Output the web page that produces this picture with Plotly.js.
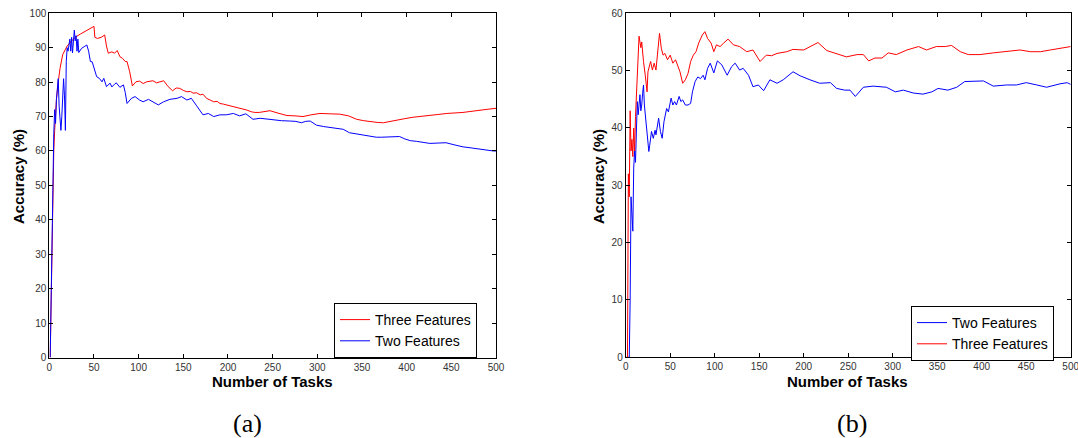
<!DOCTYPE html>
<html>
<head>
<meta charset="utf-8">
<script src="https://cdn.plot.ly/plotly-3.0.1.min.js"></script>
<style>html,body{margin:0;padding:0;background:#fff;}#chart{width:1078px;height:438px;}</style>
</head>
<body>
<div id="chart"></div>
<script>
// ---- Panel (a) ----
const threeA_x = [1,2,3,4,5,6,7,8,10,12,15,20,25,30,35,40,45,50,51,54,58,62,64,66,70,73,76,79,82,85,87,90,93,97,101,105,109,113,116,120,124,128,133,138,142,146,150,154,158,161,165,169,172,176,180,184,188,191,195,198,204,210,216,221,226,230,235,240,247,256,266,275,284,293,303,314,325,335,344,352,359,367,374,381,389,398,407,416,426,435,445,454,463,472,482,490,500];
const threeA_y = [0,16,40,50,60,66,71,75,80,84,88,90.5,92,93.2,94,94.8,95.5,96.2,93,92.7,93,93.7,90.5,88.4,88.8,88.4,89.2,87.4,86.9,86,86,83,78.9,80.1,80.3,79.6,80.1,80.3,80.4,79.8,80.1,80.4,78.7,77.5,78.3,78.2,77.6,77.2,77.3,76.8,76.9,76.3,76.5,75.3,74.8,74.3,74.4,73.8,73.6,73.4,73.1,72.6,72.2,71.9,71.4,71.2,71.2,71.5,71.7,71,70.3,70.2,70.0,70.5,70.9,70.8,70.7,70.2,69.2,68.8,68.5,68.3,68.2,68.6,69.0,69.4,69.8,70.0,70.3,70.6,70.9,71.0,71.2,71.5,71.9,72.1,72.4];
const twoA_x = [1,2,3,4,5,6,7,8,9,10,11,12,13,14,15,16,17,18,19,20,21,22,23,24,25,26,27,28,29,30,31,32,33,34,36,39,42,44,46,48,51,53,56,59,61,64,68,70,73,75,79,83,85,87,92,96,101,105,111,116,122,128,135,143,148,154,159,165,169,172,178,184,191,198,206,213,220,228,236,244,251,260,269,276,282,287,292,299,307,314,322,329,336,344,351,358,366,372,377,385,392,398,404,411,418,426,435,444,453,463,472,482,490,497,500];
const twoA_y = [0,20,40,55,65,72,68,75,78,81,73,70,66,70,75,81,76,66,86,90,89,91,92.5,89,93,88.5,92,95.1,92,93.5,89,92.5,88.6,89,89.8,90.3,90.8,89,86,85.9,83,81.6,81.1,80.1,81.1,78.7,79.7,78.6,79.4,79.8,78.5,79.2,77,73.8,75.3,75.8,74.8,74.3,75,74.3,73.4,74.3,75,75.3,75.8,74.8,75.3,73.1,71.5,70.5,70.9,70,70.5,70.5,70.9,70.2,70.8,69.2,69.5,69.2,69,68.8,68.7,68.6,68.2,68.6,68.7,67.5,67.1,66.8,66.6,66.3,65.3,65,64.6,64.3,64,64,64,64.1,64.2,63.5,63,62.8,62.5,62.2,62.3,62.4,61.8,61.2,60.9,60.5,60.2,60,60];

// ---- Panel (b) ----
const twoB_x = [1,2,3,4,5,6,7,8,9,10,11,12,13,14,15,16,17,18,19,20,21,22,24,26,27,29,31,33,34,37,39,41,43,46,48,51,53,55,57,60,62,64,67,70,73,75,78,81,84,87,89,92,95,99,103,108,114,119,123,128,132,138,143,149,155,162,170,177,188,196,207,218,230,237,246,252,258,267,278,293,303,312,323,334,344,351,362,372,381,392,402,413,428,439,450,462,473,488,496,500];
const twoB_y = [0,0,0,0,10,28,25,22,33,36,34,42,44.6,42.3,44,45.8,43,44,46,47.5,44,42.3,39.4,35.9,37,39.4,38.2,39.6,38.8,41.7,39.4,38.2,41.1,43.4,42.8,45.2,44,44.6,44,45.5,44.6,44.9,44,44,44.3,46.3,48.1,48.9,48.6,49.2,48.4,50.4,51.3,49.6,51.7,51,49.2,50.7,51.3,50.1,50.4,49.2,47.2,47.5,46.5,48.4,47.8,48.4,49.8,49.1,48.4,47.8,47.9,46.9,46.6,46.6,45.5,47.1,47.3,47.1,46.3,46.6,46.1,45.9,46.3,46.9,46.6,47.1,48.1,48.1,48.2,47.3,47.5,47.5,47.9,47.5,47.1,47.7,47.9,47.6];
const threeB_x = [1,2,3,4,5,6,7,8,9,10,11,12,13,14,15,16,17,18,19,20,22,24,25,27,28,30,32,34,36,38,40,42,44,47,50,53,56,58,61,64,67,70,73,76,79,82,86,89,92,96,99,102,106,110,115,121,128,136,143,151,158,164,170,181,188,200,207,216,226,237,248,260,267,273,280,288,295,304,316,329,338,349,359,366,376,385,398,413,428,443,455,466,477,488,500];
const threeB_y = [0,0,32,28,43,36,38,35,40,36,42,46,51,54,56,55,54,55,53,51.6,49.2,46.3,49.8,51,51.6,50.1,51.3,50.1,53.9,56.5,53.9,52.7,53,51.9,52.7,51.3,51.9,51,49.8,47.8,48.4,49.5,51.6,52.7,53.3,54.8,56.2,56.8,55.6,54.8,53.3,54.5,54.2,54.8,55.5,54.5,54.2,53.3,53.6,51.6,52.7,52.6,53.0,53.3,53.7,53.6,54.2,54.9,53.5,53.0,52.4,52.8,52.8,51.7,52.2,52.2,53.1,52.8,53.6,54.2,53.6,54.2,54.2,54.4,53.3,52.8,52.8,53.1,53.3,53.6,53.3,53.3,53.6,53.9,54.2];

const xTicks = [0,50,100,150,200,250,300,350,400,450,500];
const labelThree = 'Three Features';
const labelTwo = 'Two Features';
const xTitle = 'Number of Tasks';
const yTitle = 'Accuracy (%)';

const RED = '#ff0000', BLUE = '#0000ff';
const traces = [
  {x: threeA_x, y: threeA_y, name: labelThree, type: 'scatter', mode: 'lines', line: {color: RED, width: 1}, xaxis: 'x', yaxis: 'y', legend: 'legend'},
  {x: twoA_x, y: twoA_y, name: labelTwo, type: 'scatter', mode: 'lines', line: {color: BLUE, width: 1}, xaxis: 'x', yaxis: 'y', legend: 'legend'},
  {x: twoB_x, y: twoB_y, name: labelTwo, type: 'scatter', mode: 'lines', line: {color: BLUE, width: 1}, xaxis: 'x2', yaxis: 'y2', legend: 'legend2'},
  {x: threeB_x, y: threeB_y, name: labelThree, type: 'scatter', mode: 'lines', line: {color: RED, width: 1}, xaxis: 'x2', yaxis: 'y2', legend: 'legend2'}
];

const W = 1078, H = 438;
const tickFont = {family: 'Liberation Sans, Arial, sans-serif', size: 10, color: '#333'};
function ax(extra) {
  return Object.assign({
    showline: true, linecolor: '#000', linewidth: 1, mirror: 'ticks',
    ticks: 'inside', ticklen: 4, tickcolor: '#000', tickwidth: 1,
    showgrid: false, zeroline: false, tickfont: tickFont, fixedrange: true,
    ticklabeloverflow: 'allow'
  }, extra);
}
const legendStyle = {
  bgcolor: '#fff', bordercolor: '#000', borderwidth: 1,
  font: {family: 'Liberation Sans, Arial, sans-serif', size: 14, color: '#000'},
  itemwidth: 30, tracegroupgap: 0, xanchor: 'left', yanchor: 'top', traceorder: 'normal'
};
const titleFont = {family: 'Liberation Sans, Arial, sans-serif', size: 15, color: '#000', weight: 'bold'};
const capFont = {family: 'Liberation Serif, Times New Roman, serif', size: 26, color: '#000'};

const layout = {
  width: W, height: H,
  margin: {l: 0, r: 0, t: 0, b: 0},
  paper_bgcolor: '#fff', plot_bgcolor: '#fff',
  showlegend: true,
  xaxis: ax({domain: [49.3/W, 496/W], range: [0, 500], tickvals: xTicks, anchor: 'y'}),
  yaxis: ax({domain: [(H-357.5)/H, (H-13.3)/H], range: [0, 100], dtick: 10, anchor: 'x'}),
  xaxis2: ax({domain: [625.7/W, 1070.7/W], range: [0, 500], tickvals: xTicks, anchor: 'y2'}),
  yaxis2: ax({domain: [(H-357.3)/H, (H-13.3)/H], range: [0, 60], dtick: 10, anchor: 'x2'}),
  legend: Object.assign({x: 334/W, y: 1 - 303/H}, legendStyle),
  legend2: Object.assign({x: 911/W, y: 1 - 306/H}, legendStyle),
  annotations: [
    {text: xTitle, x: 272/W, y: 1 - 381/H, xref: 'paper', yref: 'paper', showarrow: false, font: titleFont, xanchor: 'center', yanchor: 'middle'},
    {text: xTitle, x: 848/W, y: 1 - 381/H, xref: 'paper', yref: 'paper', showarrow: false, font: titleFont, xanchor: 'center', yanchor: 'middle'},
    {text: yTitle, x: 18/W, y: 1 - 177/H, xref: 'paper', yref: 'paper', showarrow: false, font: titleFont, textangle: -90, xanchor: 'center', yanchor: 'middle'},
    {text: yTitle, x: 598/W, y: 1 - 177/H, xref: 'paper', yref: 'paper', showarrow: false, font: titleFont, textangle: -90, xanchor: 'center', yanchor: 'middle'},
    {text: '(a)', x: 247/W, y: 1 - 423/H, xref: 'paper', yref: 'paper', showarrow: false, font: capFont, xanchor: 'center', yanchor: 'middle'},
    {text: '(b)', x: 852/W, y: 1 - 423/H, xref: 'paper', yref: 'paper', showarrow: false, font: capFont, xanchor: 'center', yanchor: 'middle'}
  ]
};

Plotly.newPlot('chart', traces, layout, {displayModeBar: false, staticPlot: true});
</script>
</body>
</html>
